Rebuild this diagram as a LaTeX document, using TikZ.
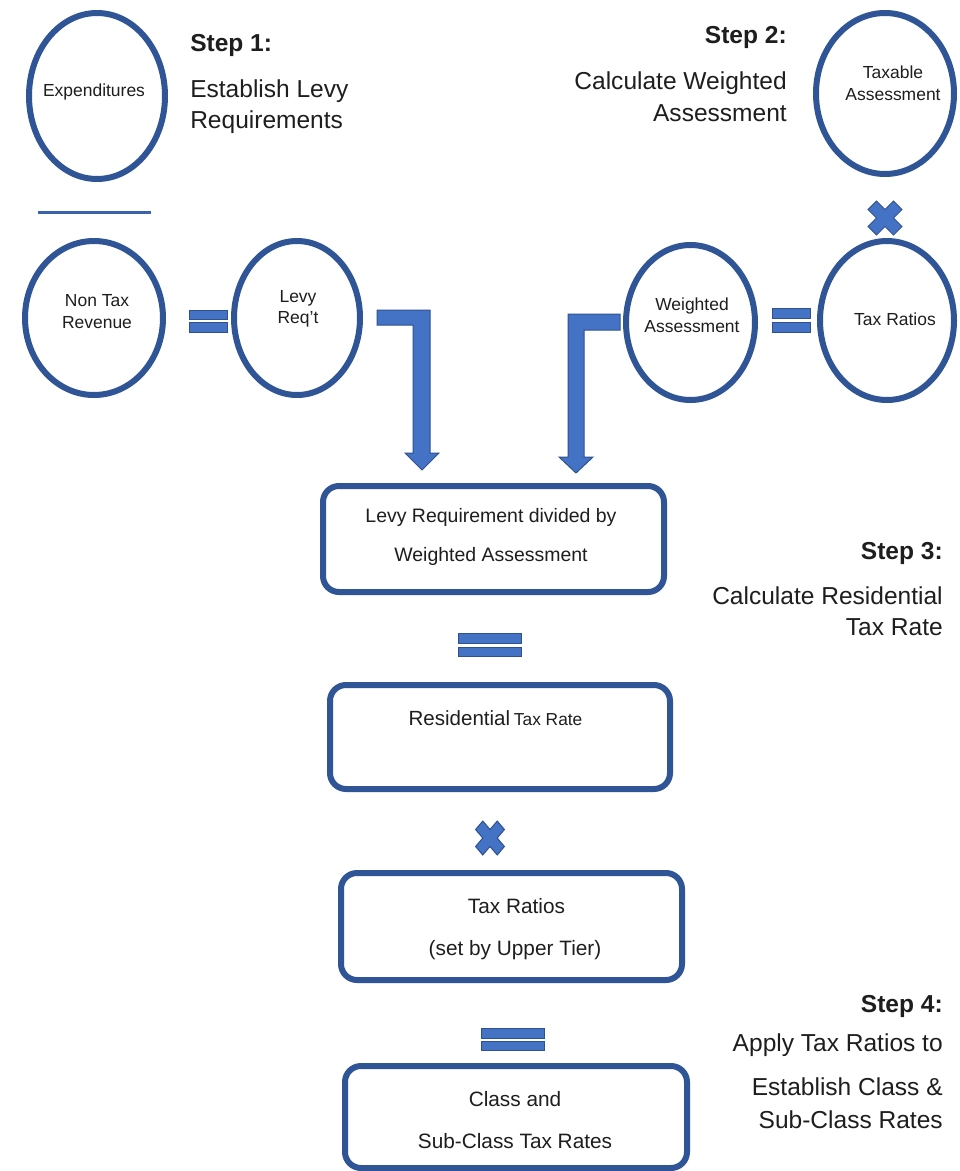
\documentclass[tikz,border=0pt]{standalone}
\usepackage{fontspec}
\setmainfont{Liberation Sans}
\usetikzlibrary{shapes.geometric}
\definecolor{ringblue}{HTML}{2F5597}
\definecolor{fillblue}{HTML}{4472C4}
\definecolor{edgeblue}{HTML}{2F528F}
\definecolor{barblue}{HTML}{3A63AD}
\definecolor{inkgrey}{HTML}{1E1E1E}
\tikzset{
  ring/.style={draw=ringblue, line width=4.5pt, ellipse, inner sep=0pt},
  ringtxt/.style={font=\fontsize{13.1}{15}\selectfont, anchor=base, inner sep=0pt, text=inkgrey},
  stepbox/.style={draw=ringblue, line width=4.5pt, rectangle, rounded corners=12pt, inner sep=0pt},
  steptitle/.style={font=\fontsize{18.4}{22}\selectfont\bfseries, inner sep=0pt, text=inkgrey},
  stepline/.style={font=\fontsize{18.4}{22}\selectfont, inner sep=0pt, text=inkgrey},
  boxtxt/.style={font=\fontsize{15.6}{18}\selectfont, anchor=base, inner sep=0pt, text=inkgrey},
  boxtxtsmall/.style={font=\fontsize{14.6}{18}\selectfont, anchor=base, inner sep=0pt, text=inkgrey},
  blockfill/.style={fill=fillblue, draw=edgeblue, line width=0.75pt},
  pics/timescross/.style={code={
    \draw[blockfill, rotate=45] (6,18) -- (-6,18) -- (-6,6) -- (-18,6) -- (-18,-6) -- (-6,-6)
      -- (-6,-18) -- (6,-18) -- (6,-6) -- (18,-6) -- (18,6) -- (6,6) -- cycle;}},
}
\begin{document}
\begin{tikzpicture}[x=0.75pt,y=-0.75pt]
\useasboundingbox (0,0) rectangle (960,1171);
\fill[white] (0,0) rectangle (960,1171);

% ---- ellipses ----
\node[ring, minimum width=102pt, minimum height=124.5pt] (exp) at (97,96) {};
\node[ring, minimum width=103.5pt, minimum height=115.5pt] (ntr) at (94,318) {};
\node[ring, minimum width=94.5pt, minimum height=115.5pt] (levy) at (297,318) {};
\node[ring, minimum width=103.5pt, minimum height=120.75pt] (taxa) at (885,93.5) {};
\node[ring, minimum width=96.75pt, minimum height=116.25pt] (wa) at (690.5,322.5) {};
\node[ring, minimum width=100.5pt, minimum height=119.25pt] (tr) at (887,320.5) {};

% ellipse texts
\node[ringtxt] (expt) at (94,96) {Expenditures};
\node[ringtxt] (ntra) at (97,306) {Non Tax};
\node[ringtxt] (ntrb) at (97,328) {Revenue};
\node[ringtxt] (levya) at (298,302) {Levy};
\node[ringtxt] (levyb) at (298,323) {Req't};
\node[ringtxt] (taxaa) at (893,78) {Taxable};
\node[ringtxt] (taxab) at (893,100) {Assessment};
\node[ringtxt] (waa) at (692,310) {Weighted};
\node[ringtxt] (wab) at (692,332) {Assessment};
\node[ringtxt] (trt) at (895,325) {Tax Ratios};

% fraction bar
\draw[barblue, line width=2.25pt] (38,212) -- (151,212);

% equals signs
\draw[blockfill] (189,310) rectangle (227,319);
\draw[blockfill] (189,322) rectangle (227,332);
\draw[blockfill] (772,308) rectangle (810,318);
\draw[blockfill] (772,322) rectangle (810,332);
\draw[blockfill] (458,633) rectangle (521,643);
\draw[blockfill] (458,647) rectangle (521,656);
\draw[blockfill] (481,1028) rectangle (544,1038);
\draw[blockfill] (481,1041) rectangle (544,1050);

% multiply signs
\pic at (885,218) {timescross};
\pic[xscale=0.85] at (490,838) {timescross};

% bent arrows
\draw[blockfill] (377,310) -- (430,310) -- (430,453) -- (439,453) -- (422,470)
  -- (405,453) -- (413,453) -- (413,325) -- (377,325) -- cycle;
\draw[blockfill] (620,314) -- (568,314) -- (568,457) -- (559,457) -- (576,473)
  -- (593,457) -- (584,457) -- (584,330) -- (620,330) -- cycle;

% ---- boxes ----
\node[stepbox, minimum width=255.75pt, minimum height=79.5pt] (b1) at (493.5,539) {};
\node[stepbox, minimum width=255pt, minimum height=78pt] (b2) at (500,737) {};
\node[stepbox, minimum width=255.75pt, minimum height=80.25pt] (b3) at (511.5,926.5) {};
\node[stepbox, minimum width=256.5pt, minimum height=76.5pt] (b4) at (516,1117) {};

\node[boxtxtsmall] (b1a) at (491,522) {Levy Requirement divided by};
\node[boxtxtsmall] (b1b) at (491,561) {Weighted Assessment};
\node[anchor=base, inner sep=0pt, text=inkgrey] (b2a) at (495.5,725)
  {{\fontsize{15.4}{18}\selectfont Residential} {\fontsize{13}{16}\selectfont Tax Rate}};
\node[boxtxt] (b3a) at (516.5,913) {Tax Ratios};
\node[boxtxt] (b3b) at (515,955) {(set by Upper Tier)};
\node[boxtxt] (b4a) at (515,1106) {Class and};
\node[boxtxt] (b4b) at (515,1148) {Sub-Class Tax Rates};

% ---- step labels ----
\node[steptitle, anchor=base west] (s1t) at (190,51) {Step 1:};
\node[stepline, anchor=base west] (s1a) at (190,97.5) {Establish Levy};
\node[stepline, anchor=base west] (s1b) at (190,128) {Requirements};

\node[steptitle, anchor=base east] (s2t) at (787,43) {Step 2:};
\node[stepline, anchor=base east] (s2a) at (787,89.5) {Calculate Weighted};
\node[stepline, anchor=base east] (s2b) at (787,121) {Assessment};

\node[steptitle, anchor=base east] (s3t) at (943,559) {Step 3:};
\node[stepline, anchor=base east] (s3a) at (943,604) {Calculate Residential};
\node[stepline, anchor=base east] (s3b) at (943,635) {Tax Rate};

\node[steptitle, anchor=base east] (s4t) at (943,1012) {Step 4:};
\node[stepline, anchor=base east] (s4a) at (943,1051) {Apply Tax Ratios to};
\node[stepline, anchor=base east] (s4b) at (943,1095) {Establish Class \&};
\node[stepline, anchor=base east] (s4c) at (943,1128) {Sub-Class Rates};
\end{tikzpicture}
\end{document}
